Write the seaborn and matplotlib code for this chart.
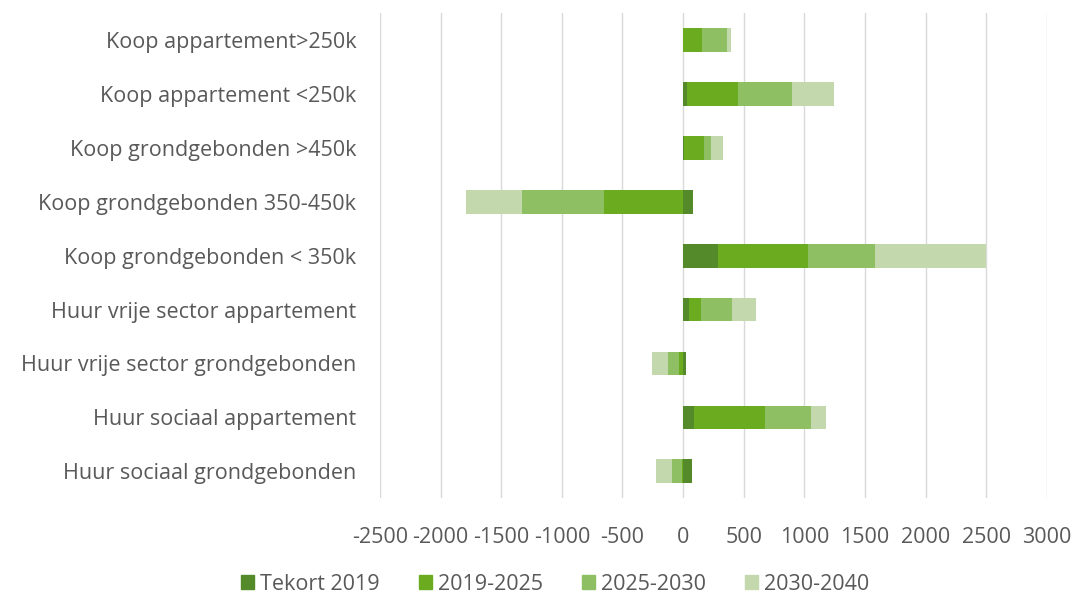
import numpy as np
import pandas as pd
import matplotlib
matplotlib.use("Agg")
import matplotlib.pyplot as plt
from matplotlib.patches import Patch
import seaborn as sns

# categories (top to bottom) and series values
categories = [
    "Koop appartement>250k",
    "Koop appartement <250k",
    "Koop grondgebonden >450k",
    "Koop grondgebonden 350-450k",
    "Koop grondgebonden < 350k",
    "Huur vrije sector appartement",
    "Huur vrije sector grondgebonden",
    "Huur sociaal appartement",
    "Huur sociaal grondgebonden",
]
series_names = ["Tekort 2019", "2019-2025", "2025-2030", "2030-2040"]
tekort_2019 = [0, 35, 10, 80, 290, 45, 25, 90, 75]
p_2019_2025 = [155, 415, 160, -655, 740, 100, -35, 590, -5]
p_2025_2030 = [205, 450, 60, -670, 550, 255, -90, 375, -90]
p_2030_2040 = [35, 345, 100, -465, 915, 205, -130, 125, -125]
colors = ["#548a2a", "#6aab1f", "#8ec063", "#c4d8ae"]
xticks = list(range(-2500, 3001, 500))

sns.set_style("white")
plt.rcParams["font.family"] = ["Open Sans", "DejaVu Sans"]
text_col = "#595959"

df = pd.DataFrame({"cat": categories})
vals = [tekort_2019, p_2019_2025, p_2025_2030, p_2030_2040]
for name, v in zip(series_names, vals):
    df[name] = v

# cumulative ends, positives and negatives stacked separately
pos = df[series_names].clip(lower=0).cumsum(axis=1)
neg = df[series_names].clip(upper=0).cumsum(axis=1)
ends = pd.DataFrame({n: np.where(df[n] >= 0, pos[n], neg[n]) for n in series_names})

fig = plt.figure(figsize=(10.78, 5.96), dpi=100)
ax = fig.add_axes([0.3525, 0.164, 0.6185, 0.814])

# draw last series first so earlier segments sit on top
for name, col in reversed(list(zip(series_names, colors))):
    sns.barplot(x=ends[name], y=df["cat"], color=col, orient="h",
                width=0.44, ax=ax, saturation=1, linewidth=0)

ax.set_xlim(-2500, 3000)
ax.set_xticks(xticks)
ax.set_xticklabels([str(t) for t in xticks])
ax.grid(axis="x", color="#d9d9d9", linewidth=1)
ax.set_axisbelow(True)
for s in ax.spines.values():
    s.set_visible(False)
ax.set_xlabel("")
ax.set_ylabel("")
ax.tick_params(axis="x", length=0, pad=21, labelsize=15.5, labelcolor=text_col)
ax.tick_params(axis="y", length=0, pad=17, labelsize=15.5, labelcolor=text_col)

handles = [Patch(color=c, label=n) for n, c in zip(series_names, colors)]
fig.legend(handles=handles, loc="center", bbox_to_anchor=(0.515, 0.02),
           ncol=4, frameon=False, fontsize=15.5, labelcolor=text_col,
           handlelength=0.6, handleheight=0.6, handletextpad=0.3,
           columnspacing=1.8)

fig.savefig("out.png", dpi=100)
